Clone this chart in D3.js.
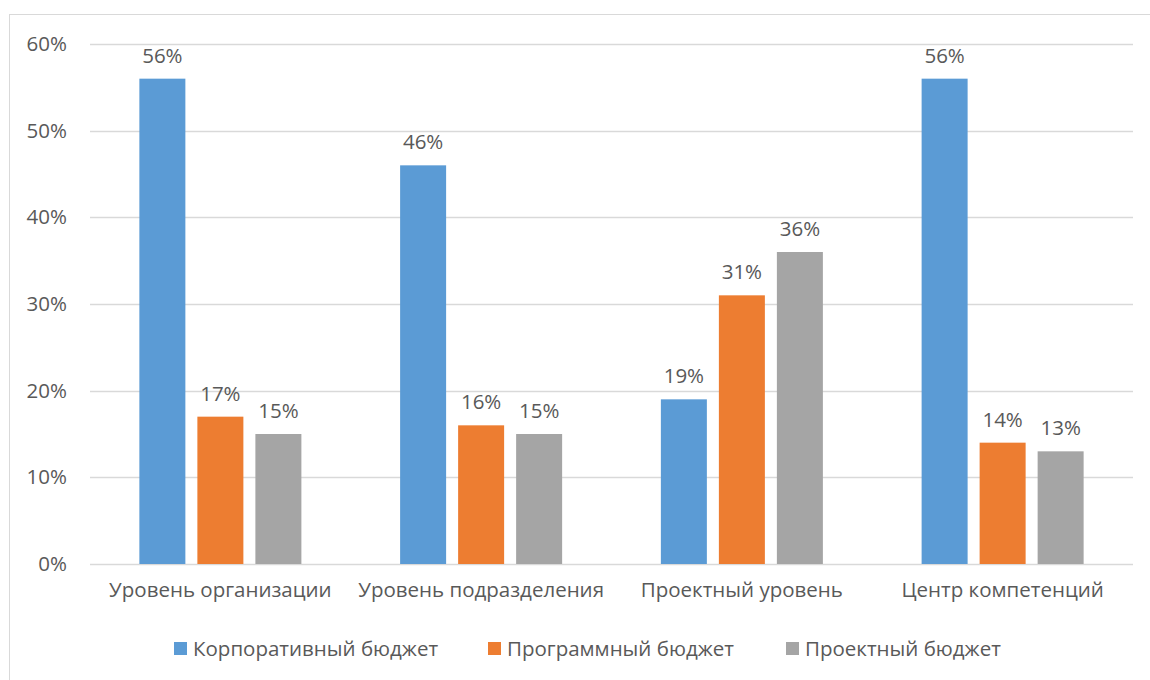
<!DOCTYPE html>
<html>
<head>
<meta charset="utf-8">
<script src="https://cdn.jsdelivr.net/npm/d3@7"></script>
<style>
  html, body { margin: 0; padding: 0; background: #fff; }
  svg { display: block; }
  text { font-family: "Open Sans", "Noto Sans", sans-serif; fill: #595959; }
</style>
</head>
<body>
<svg id="chart" width="1150" height="680"></svg>
<script>
// Budget source shares by management level
const categories = ["Уровень организации", "Уровень подразделения", "Проектный уровень", "Центр компетенций"];
const seriesNames = ["Корпоративный бюджет", "Программный бюджет", "Проектный бюджет"];
const corporate = [56, 46, 19, 56];
const program = [17, 16, 31, 14];
const project = [15, 15, 36, 13];
const yTicks = [0, 10, 20, 30, 40, 50, 60];
const colors = ["#5b9bd5", "#ed7d31", "#a5a5a5"];

const seriesValues = [corporate, program, project];
const FONT = "20.5px";

const svg = d3.select("#chart");

// Outer frame
svg.append("rect")
  .attr("x", 9.5).attr("y", 14.5)
  .attr("width", 1150).attr("height", 680)
  .attr("fill", "none").attr("stroke", "#d9d9d9").attr("stroke-width", 1);

const plot = { left: 90, right: 1133, top: 44, bottom: 564 };

const x0 = d3.scaleBand().domain(categories).range([plot.left, plot.right]);
// 46px bars with 12px gaps, group centred in each category band
const x1 = d3.scaleBand().domain(seriesNames).range([0, x0.bandwidth()]).paddingInner(0.207).paddingOuter(0.851);
const y = d3.scaleLinear().domain([0, 60]).range([plot.bottom, plot.top]);

// Horizontal gridlines
svg.append("g").selectAll("line").data(yTicks).join("line")
  .attr("x1", plot.left).attr("x2", plot.right)
  .attr("y1", d => Math.round(y(d)) + 0.5).attr("y2", d => Math.round(y(d)) + 0.5)
  .attr("stroke", "#d9d9d9").attr("stroke-width", 1.3);

// Y axis labels
const yAxis = d3.axisLeft(y).tickValues(yTicks).tickFormat(d => d + "%").tickSize(0).tickPadding(23);
const yg = svg.append("g").attr("transform", `translate(${plot.left},0)`).call(yAxis);
yg.select(".domain").remove();
yg.selectAll("text").style("font-size", FONT).attr("fill", "#595959").style("font-family", null);

// Category labels
const xAxis = d3.axisBottom(x0).tickSize(0).tickPadding(18);
const xg = svg.append("g").attr("transform", `translate(0,${plot.bottom})`).call(xAxis);
xg.select(".domain").remove();
xg.selectAll("text").style("font-size", FONT).attr("fill", "#595959").style("font-family", null);

// Bars and value labels
const rows = [];
categories.forEach((c, i) => {
  seriesNames.forEach((s, j) => rows.push({ cat: c, series: s, value: seriesValues[j][i], color: colors[j] }));
});

const bars = svg.append("g");
bars.selectAll("rect").data(rows).join("rect")
  .attr("x", d => x0(d.cat) + x1(d.series))
  .attr("y", d => y(d.value))
  .attr("width", x1.bandwidth())
  .attr("height", d => y(0) - y(d.value))
  .attr("fill", d => d.color);

bars.selectAll("text").data(rows).join("text")
  .attr("x", d => x0(d.cat) + x1(d.series) + x1.bandwidth() / 2)
  .attr("y", d => y(d.value) - 16)
  .attr("text-anchor", "middle")
  .style("font-size", FONT)
  .text(d => d.value + "%");

// Legend
const legendX = [174, 488, 786];
const legend = svg.append("g");
seriesNames.forEach((s, j) => {
  legend.append("rect")
    .attr("x", legendX[j]).attr("y", 642)
    .attr("width", 13).attr("height", 13)
    .attr("fill", colors[j]);
  legend.append("text")
    .attr("x", legendX[j] + 19).attr("y", 656)
    .style("font-size", FONT)
    .text(s);
});
</script>
</body>
</html>
